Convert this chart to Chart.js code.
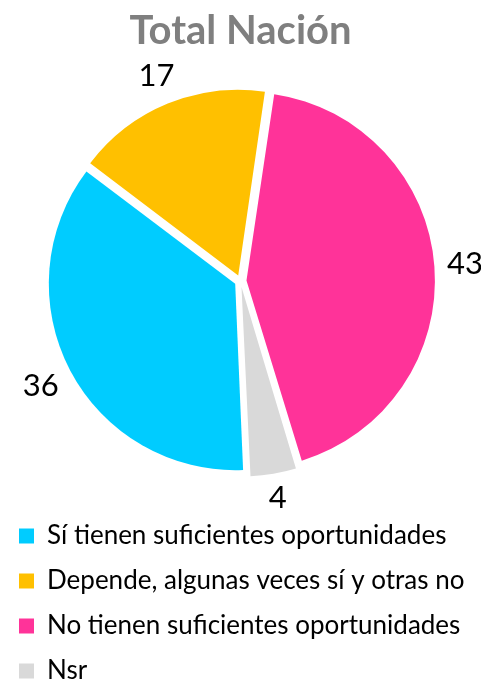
<!DOCTYPE html>
<html>
<head>
<meta charset="utf-8">
<title>Total Nación</title>
<script src="https://cdn.jsdelivr.net/npm/chart.js@4.4.1/dist/chart.umd.min.js"></script>
<style>
    html, body { margin: 0; padding: 0; background: #fff; overflow: hidden; }
    #wrap { width: 481px; height: 694px; position: relative; }
</style>
</head>
<body>
<div id="wrap"><canvas id="pieChart"></canvas></div>
<script>
// Chart data
const categories = [
    "Sí tienen suficientes oportunidades",
    "Depende, algunas veces sí y otras no",
    "No tienen suficientes oportunidades",
    "Nsr"
];
const values = [36, 17, 43, 4];
const sliceColors = ["#00CCFF", "#FFC000", "#FF3399", "#D9D9D9"];
const chartTitle = "Total Nación";

const FONT = "Lato, 'Noto Sans', sans-serif";

// Chart.js moves an exploded arc by offset/4, a bit more for wide arcs
function arcShift(arc) {
    const fix = 1 - Math.sin(Math.min(Math.PI, arc.circumference || 0));
    return (arc.options.offset || 0) / 4 * (1 + fix);
}

// Draws the value next to each slice, outside the pie
const outsideLabels = {
    id: "outsideLabels",
    afterDatasetsDraw(chart) {
        const ctx = chart.ctx;
        const meta = chart.getDatasetMeta(0);
        ctx.save();
        ctx.font = "31px " + FONT;
        ctx.fillStyle = "#000";
        ctx.textAlign = "center";
        ctx.textBaseline = "middle";
        meta.data.forEach((arc, i) => {
            const p = arc.getProps(["x", "y", "startAngle", "endAngle", "outerRadius"], true);
            const mid = (p.startAngle + p.endAngle) / 2;
            const text = String(values[i]);
            const w = ctx.measureText(text).width;
            const h = 23;
            const cos = Math.cos(mid);
            const sin = Math.sin(mid);
            const dist = p.outerRadius + arcShift(arc) + 12 + Math.abs(cos) * w / 2 + Math.abs(sin) * h / 2;
            ctx.fillText(text, p.x + cos * dist, p.y + sin * dist);
        });
        ctx.restore();
    }
};

const ctx = document.getElementById("pieChart").getContext("2d");
const pieChart = new Chart(ctx, {
    type: "pie",
    data: {
        labels: categories,
        datasets: [{
            data: values,
            backgroundColor: sliceColors,
            borderWidth: 0,
            offset: 24
        }]
    },
    options: {
        responsive: true,
        maintainAspectRatio: false,
        animation: false,
        rotation: 177.5,
        radius: 185,
        layout: { padding: 0 },
        plugins: {
            title: {
                display: true,
                text: chartTitle,
                color: "#7F7F7F",
                font: { family: FONT, size: 40, weight: "bold", lineHeight: 1.2 },
                padding: { top: 7, bottom: 3 }
            },
            legend: {
                position: "bottom",
                align: "start",
                labels: {
                    boxWidth: 15,
                    boxHeight: 15,
                    padding: 19,
                    color: "#000",
                    font: { family: FONT, size: 26 }
                }
            },
            tooltip: { enabled: false }
        }
    },
    plugins: [outsideLabels]
});
</script>
</body>
</html>
